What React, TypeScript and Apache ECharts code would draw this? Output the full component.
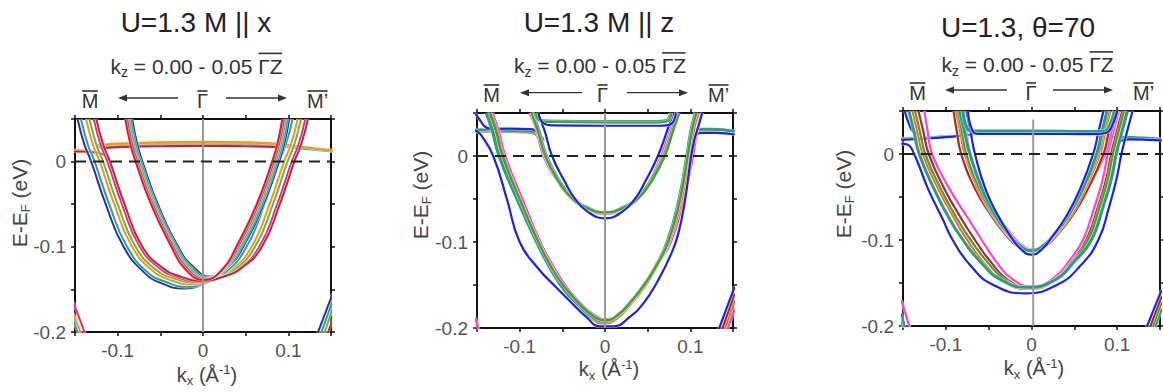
import React, { useEffect, useRef } from "react";
import * as echarts from "echarts";

type Pt = [number, number];

const FONT = '"Liberation Sans", Arial, Helvetica, sans-serif';

// ---------- shared axes ----------
const K_MIN = -0.15, K_MAX = 0.15, K_STEP = 0.05;
const E_MIN = -0.2, E_MAX = 0.05, E_STEP = 0.05;
const X_TICK_VALUES = [-0.1, 0, 0.1];
const X_TICK_TEXT = ["-0.1", "0", "0.1"];
const Y_TICK_VALUES = [-0.2, -0.1, 0];
const Y_TICK_TEXT = ["-0.2", "-0.1", "0"];

const TITLES = ["U=1.3 M || x", "U=1.3 M || z", "U=1.3, θ=70"];
const KZ_RANGE = " = 0.00 - 0.05 ";

const FERMI: Pt[] = [[-0.15, 0], [0.15, 0]];
const GAMMA_P1: Pt[] = [[0, 0.05], [0, -0.2]];
const GAMMA_P2: Pt[] = [[0, 0.05], [0, -0.2]];
const GAMMA_P3: Pt[] = [[0.002, 0.04], [0.002, -0.2]];

// ---------- Panel 1 : U=1.3 M || x ----------
const P1_OUT_NAVY: Pt[] = [[-0.147,0.05],[-0.139,0.02],[-0.131,0],[-0.114,-0.05],[-0.093,-0.1],[-0.069,-0.13],[-0.048,-0.143],[-0.023,-0.149],[0.002,-0.143],[0.023,-0.13],[0.047,-0.1],[0.068,-0.05],[0.085,0],[0.093,0.02],[0.101,0.05]];
const P1_OUT_TEAL: Pt[] = [[-0.143,0.05],[-0.135,0.02],[-0.127,0],[-0.11,-0.05],[-0.089,-0.1],[-0.065,-0.13],[-0.044,-0.141],[-0.019,-0.147],[0.006,-0.141],[0.027,-0.13],[0.051,-0.1],[0.072,-0.05],[0.089,0],[0.097,0.02],[0.105,0.05]];
const P1_OUT_ORANGE: Pt[] = [[-0.137,0.05],[-0.129,0.02],[-0.121,0],[-0.104,-0.05],[-0.083,-0.1],[-0.059,-0.128],[-0.038,-0.139],[-0.013,-0.144],[0.012,-0.139],[0.033,-0.128],[0.057,-0.1],[0.078,-0.05],[0.095,0],[0.103,0.02],[0.111,0.05]];
const P1_OUT_GREEN: Pt[] = [[-0.133,0.05],[-0.125,0.02],[-0.117,0],[-0.1,-0.05],[-0.079,-0.1],[-0.055,-0.127],[-0.034,-0.137],[-0.009,-0.142],[0.016,-0.137],[0.037,-0.127],[0.061,-0.1],[0.082,-0.05],[0.099,0],[0.107,0.02],[0.115,0.05]];
const P1_OUT_PINK: Pt[] = [[-0.128,0.05],[-0.12,0.02],[-0.112,0],[-0.095,-0.05],[-0.074,-0.1],[-0.05,-0.126],[-0.029,-0.136],[-0.004,-0.141],[0.021,-0.136],[0.042,-0.126],[0.066,-0.1],[0.087,-0.05],[0.104,0],[0.112,0.02],[0.12,0.05]];
const P1_OUT_RED: Pt[] = [[-0.125,0.05],[-0.117,0.02],[-0.109,0],[-0.092,-0.05],[-0.071,-0.1],[-0.047,-0.125],[-0.026,-0.135],[-0.001,-0.14],[0.024,-0.135],[0.045,-0.125],[0.069,-0.1],[0.09,-0.05],[0.107,0],[0.115,0.02],[0.123,0.05]];

const P1_IN_RED: Pt[] = [[-0.091,0.05],[-0.085,0.02],[-0.079,0],[-0.061,-0.05],[-0.037,-0.1],[-0.021,-0.126],[0.001,-0.139],[0.023,-0.126],[0.039,-0.1],[0.063,-0.05],[0.081,0],[0.087,0.02],[0.093,0.05]];
const P1_IN_PINK: Pt[] = [[-0.089,0.05],[-0.083,0.02],[-0.077,0],[-0.059,-0.05],[-0.035,-0.1],[-0.019,-0.125],[0.003,-0.138],[0.025,-0.125],[0.041,-0.1],[0.065,-0.05],[0.083,0],[0.089,0.02],[0.095,0.05]];
const P1_IN_GREEN: Pt[] = [[-0.087,0.05],[-0.081,0.02],[-0.075,0],[-0.057,-0.05],[-0.033,-0.1],[-0.017,-0.124],[0.005,-0.137],[0.027,-0.124],[0.043,-0.1],[0.067,-0.05],[0.085,0],[0.091,0.02],[0.097,0.05]];
const P1_IN_TEAL: Pt[] = [[-0.085,0.05],[-0.079,0.02],[-0.073,0],[-0.055,-0.05],[-0.031,-0.1],[-0.015,-0.123],[0.007,-0.136],[0.029,-0.123],[0.045,-0.1],[0.069,-0.05],[0.087,0],[0.093,0.02],[0.099,0.05]];
const P1_IN_NAVY: Pt[] = [[-0.083,0.05],[-0.077,0.02],[-0.071,0],[-0.053,-0.05],[-0.029,-0.1],[-0.013,-0.122],[0.009,-0.135],[0.031,-0.122],[0.047,-0.1],[0.071,-0.05],[0.089,0],[0.095,0.02],[0.101,0.05]];

const P1_FLAT_ORANGE: Pt[] = [[-0.125,0.019],[-0.1,0.021],[-0.05,0.0225],[0,0.023],[0.05,0.0225],[0.085,0.021],[0.11,0.018],[0.13,0.0155],[0.152,0.013]];
const P1_FLAT_TEAL: Pt[] = [[-0.125,0.017],[-0.1,0.019],[-0.05,0.0205],[0,0.021],[0.05,0.0205],[0.085,0.019],[0.11,0.016],[0.13,0.014],[0.152,0.012]];
const P1_FLAT_RED: Pt[] = [[-0.12,0.0155],[-0.1,0.017],[-0.05,0.018],[0,0.0185],[0.05,0.018],[0.088,0.017]];
const P1_LOW_ORANGE: Pt[] = [[-0.152,0.0135],[-0.14,0.013],[-0.128,0.011],[-0.122,0.004]];
const P1_LOW_RED: Pt[] = [[-0.152,0.012],[-0.135,0.0115],[-0.118,0.009],[-0.112,0.002]];

const P1_BL_PINK: Pt[] = [[-0.152,-0.165],[-0.137,-0.205]];
const P1_BL_ORANGE: Pt[] = [[-0.152,-0.178],[-0.142,-0.205]];
const P1_BL_TEAL: Pt[] = [[-0.152,-0.186],[-0.145,-0.205]];
const P1_BR_NAVY: Pt[] = [[0.133,-0.205],[0.152,-0.155]];
const P1_BR_TEAL: Pt[] = [[0.137,-0.205],[0.152,-0.163]];
const P1_BR_GREEN: Pt[] = [[0.141,-0.205],[0.152,-0.172]];
const P1_BR_RED: Pt[] = [[0.145,-0.205],[0.152,-0.185]];

// ---------- Panel 2 : U=1.3 M || z ----------
const P2_IN_BLUE: Pt[] = [[-0.079,0.05],[-0.071,0.03],[-0.062,0],[-0.047,-0.03],[-0.035,-0.05],[-0.02,-0.065],[0,-0.0725],[0.02,-0.065],[0.035,-0.05],[0.047,-0.03],[0.062,0],[0.073,0.03],[0.08,0.05]];
const P2_IN_GREEN: Pt[] = [[-0.086,0.05],[-0.079,0.03],[-0.07,0],[-0.054,-0.03],[-0.04,-0.048],[-0.022,-0.06],[0,-0.0655],[0.022,-0.06],[0.04,-0.048],[0.054,-0.03],[0.07,0],[0.08,0.03],[0.087,0.05]];
const P2_IN_TEAL: Pt[] = [[-0.085,0.05],[-0.078,0.03],[-0.069,0],[-0.053,-0.03],[-0.039,-0.048],[-0.021,-0.06],[0,-0.066],[0.021,-0.06],[0.039,-0.048],[0.053,-0.03],[0.069,0],[0.079,0.03],[0.086,0.05]];
const P2_IN_ORANGE: Pt[] = [[-0.084,0.05],[-0.077,0.03],[-0.068,0],[-0.052,-0.03],[-0.038,-0.05],[-0.021,-0.062],[0,-0.0675],[0.021,-0.062],[0.038,-0.05],[0.052,-0.03],[0.068,0],[0.078,0.03],[0.085,0.05]];
const P2_IN_MAGENTA: Pt[] = [[-0.088,0.05],[-0.08,0.03],[-0.072,0],[-0.055,-0.03],[-0.041,-0.048],[-0.022,-0.06],[0,-0.066],[0.022,-0.06],[0.04,-0.048],[0.052,-0.03],[0.066,0],[0.076,0.03],[0.083,0.05]];
const P2_IN_RED: Pt[] = [[-0.086,0.05],[-0.078,0.03],[-0.07,0],[-0.053,-0.03],[-0.039,-0.05],[-0.021,-0.062],[0,-0.067],[0.021,-0.062],[0.039,-0.05],[0.053,-0.03],[0.069,0],[0.079,0.03],[0.086,0.05]];

const P2_OUT_BLUE: Pt[] = [[-0.152,0.03],[-0.145,0.024],[-0.131,0],[-0.115,-0.05],[-0.1,-0.1],[-0.079,-0.13],[-0.058,-0.152],[-0.04,-0.17],[-0.022,-0.187],[-0.006,-0.198],[0.01,-0.198],[0.028,-0.188],[0.046,-0.17],[0.062,-0.145],[0.077,-0.115],[0.086,-0.09],[0.094,-0.05],[0.101,0],[0.105,0.02],[0.108,0.03],[0.114,0.05]];
const P2_OUT_TEAL: Pt[] = [[-0.139,0.05],[-0.132,0.03],[-0.124,0],[-0.103,-0.05],[-0.08,-0.1],[-0.062,-0.134],[-0.047,-0.156],[-0.031,-0.173],[-0.016,-0.186],[-0.001,-0.192],[0.014,-0.186],[0.029,-0.171],[0.045,-0.151],[0.059,-0.129],[0.073,-0.1],[0.087,-0.05],[0.096,0],[0.101,0.03],[0.106,0.05]];
const P2_OUT_GREEN: Pt[] = [[-0.135,0.05],[-0.128,0.03],[-0.12,0],[-0.1,-0.05],[-0.078,-0.1],[-0.06,-0.134],[-0.045,-0.155],[-0.03,-0.172],[-0.015,-0.185],[0,-0.191],[0.015,-0.185],[0.03,-0.17],[0.046,-0.15],[0.06,-0.128],[0.074,-0.1],[0.088,-0.05],[0.097,0],[0.102,0.03],[0.107,0.05]];
const P2_OUT_ORANGE: Pt[] = [[-0.137,0.05],[-0.13,0.03],[-0.122,0],[-0.102,-0.05],[-0.08,-0.1],[-0.062,-0.135],[-0.047,-0.158],[-0.031,-0.176],[-0.016,-0.189],[-0.001,-0.195],[0.014,-0.189],[0.029,-0.174],[0.046,-0.153],[0.06,-0.13],[0.075,-0.1],[0.09,-0.05],[0.099,0],[0.104,0.03],[0.109,0.05]];
const P2_OUT_RED: Pt[] = [[-0.134,0.05],[-0.127,0.03],[-0.119,0],[-0.1,-0.05],[-0.078,-0.1],[-0.06,-0.134],[-0.046,-0.156],[-0.03,-0.174],[-0.015,-0.187],[0,-0.193],[0.015,-0.187],[0.03,-0.172],[0.046,-0.152],[0.06,-0.129],[0.075,-0.1],[0.089,-0.05],[0.099,0],[0.104,0.03],[0.11,0.05]];
const P2_OUT_MAGENTA: Pt[] = [[-0.132,0.05],[-0.125,0.03],[-0.117,0],[-0.097,-0.05],[-0.076,-0.1],[-0.058,-0.133],[-0.044,-0.154],[-0.029,-0.171],[-0.014,-0.184],[0.001,-0.19],[0.016,-0.184],[0.031,-0.169],[0.047,-0.149],[0.061,-0.127],[0.077,-0.1],[0.092,-0.05],[0.103,0],[0.108,0.03],[0.114,0.05]];

const P2_UP_TEAL: Pt[] = [[-0.082,0.05],[-0.077,0.042],[-0.068,0.0405],[0,0.0398],[0.06,0.0398],[0.072,0.041],[0.077,0.05]];
const P2_UP_GREEN: Pt[] = [[-0.081,0.05],[-0.076,0.041],[-0.067,0.0395],[0,0.039],[0.06,0.039],[0.073,0.0405],[0.078,0.05]];
const P2_UP_BLUE: Pt[] = [[-0.078,0.05],[-0.072,0.038],[-0.062,0.0357],[0,0.0352],[0.065,0.0352],[0.077,0.037],[0.083,0.05]];
const P2_LO_L_TEAL: Pt[] = [[-0.152,0.0305],[-0.12,0.0298],[-0.095,0.0292],[-0.082,0.028],[-0.076,0.022]];
const P2_LO_L_ORANGE: Pt[] = [[-0.152,0.0285],[-0.12,0.028],[-0.095,0.0275],[-0.083,0.026],[-0.078,0.02]];
const P2_LO_L_BLUE: Pt[] = [[-0.14,0.0315],[-0.11,0.0318],[-0.088,0.0312],[-0.078,0.027],[-0.072,0.018]];
const P2_LO_R_TEAL: Pt[] = [[0.102,0.022],[0.108,0.031],[0.125,0.031],[0.152,0.0285]];
const P2_LO_R_ORANGE: Pt[] = [[0.104,0.022],[0.11,0.029],[0.13,0.029],[0.152,0.027]];
const P2_LO_R_BLUE: Pt[] = [[0.104,0.018],[0.112,0.027],[0.13,0.0268],[0.152,0.025]];
const P2_TL_BLUE: Pt[] = [[-0.152,0.05],[-0.146,0.041],[-0.139,0.033],[-0.13,0.0315]];
const P2_BR_BLUE: Pt[] = [[0.132,-0.205],[0.152,-0.152]];
const P2_BR_RED: Pt[] = [[0.136,-0.205],[0.152,-0.16]];
const P2_BR_ORANGE: Pt[] = [[0.139,-0.205],[0.152,-0.168]];
const P2_BR_MAGENTA: Pt[] = [[0.142,-0.205],[0.152,-0.178]];
const P2_BL_MAGENTA: Pt[] = [[-0.152,-0.188],[-0.147,-0.205]];

// ---------- Panel 3 : U=1.3, theta=70 ----------
const P3_IN_BLUE: Pt[] = [[-0.076,0.05],[-0.071,0.025],[-0.066,0],[-0.054,-0.04],[-0.04,-0.07],[-0.025,-0.095],[-0.012,-0.111],[0,-0.117],[0.012,-0.111],[0.025,-0.095],[0.042,-0.07],[0.057,-0.04],[0.072,0],[0.078,0.025],[0.084,0.05]];
const P3_IN_TEAL: Pt[] = [[-0.084,0.05],[-0.078,0.025],[-0.072,0],[-0.058,-0.04],[-0.043,-0.07],[-0.027,-0.093],[-0.013,-0.107],[0,-0.1125],[0.013,-0.107],[0.027,-0.093],[0.044,-0.07],[0.06,-0.04],[0.076,0],[0.082,0.025],[0.088,0.05]];
const P3_IN_GREEN: Pt[] = [[-0.086,0.05],[-0.081,0.025],[-0.076,0],[-0.061,-0.04],[-0.045,-0.07],[-0.028,-0.093],[-0.013,-0.107],[0,-0.112],[0.013,-0.107],[0.028,-0.093],[0.045,-0.07],[0.061,-0.04],[0.078,0],[0.084,0.025],[0.09,0.05]];
const P3_IN_ORANGE: Pt[] = [[-0.088,0.05],[-0.083,0.025],[-0.078,0],[-0.063,-0.04],[-0.046,-0.07],[-0.029,-0.093],[-0.014,-0.107],[0,-0.1125],[0.014,-0.107],[0.029,-0.093],[0.047,-0.07],[0.063,-0.04],[0.08,0],[0.086,0.025],[0.092,0.05]];
const P3_IN_RED: Pt[] = [[-0.091,0.05],[-0.087,0.025],[-0.082,0],[-0.066,-0.04],[-0.048,-0.07],[-0.03,-0.094],[-0.015,-0.108],[0,-0.113],[0.015,-0.108],[0.03,-0.094],[0.049,-0.07],[0.066,-0.04],[0.084,0],[0.09,0.025],[0.096,0.05]];
const P3_IN_MAGENTA: Pt[] = [[-0.08,0.05],[-0.076,0.025],[-0.071,0],[-0.056,-0.04],[-0.04,-0.07],[-0.024,-0.093],[-0.011,-0.106],[0.002,-0.111],[0.015,-0.106],[0.03,-0.093],[0.048,-0.07],[0.066,-0.04],[0.086,0],[0.093,0.025],[0.1,0.05]];

const P3_OUT_BLUE: Pt[] = [[-0.152,0.012],[-0.145,0.011],[-0.137,0],[-0.121,-0.04],[-0.104,-0.075],[-0.092,-0.1],[-0.071,-0.13],[-0.045,-0.152],[-0.007,-0.162],[0.03,-0.152],[0.057,-0.13],[0.078,-0.1],[0.091,-0.06],[0.099,-0.03],[0.105,0],[0.11,0.02],[0.118,0.05]];
const P3_OUT_TEAL: Pt[] = [[-0.143,0.05],[-0.137,0.025],[-0.131,0],[-0.114,-0.04],[-0.096,-0.075],[-0.08,-0.1],[-0.06,-0.125],[-0.036,-0.146],[-0.004,-0.155],[0.028,-0.146],[0.05,-0.125],[0.07,-0.1],[0.084,-0.06],[0.093,-0.03],[0.099,0],[0.104,0.02],[0.112,0.05]];
const P3_OUT_ORANGE: Pt[] = [[-0.139,0.05],[-0.133,0.025],[-0.127,0],[-0.109,-0.04],[-0.09,-0.075],[-0.075,-0.1],[-0.056,-0.126],[-0.033,-0.148],[-0.003,-0.157],[0.027,-0.148],[0.049,-0.126],[0.068,-0.1],[0.082,-0.06],[0.091,-0.03],[0.097,0],[0.102,0.02],[0.11,0.05]];
const P3_OUT_GREEN: Pt[] = [[-0.136,0.05],[-0.13,0.025],[-0.124,0],[-0.106,-0.04],[-0.087,-0.075],[-0.071,-0.1],[-0.052,-0.125],[-0.03,-0.147],[-0.002,-0.156],[0.026,-0.147],[0.048,-0.125],[0.066,-0.1],[0.08,-0.06],[0.089,-0.03],[0.095,0],[0.1,0.02],[0.108,0.05]];
const P3_OUT_RED: Pt[] = [[-0.132,0.05],[-0.126,0.025],[-0.12,0],[-0.102,-0.04],[-0.082,-0.075],[-0.066,-0.1],[-0.048,-0.125],[-0.027,-0.147],[0,-0.156],[0.026,-0.147],[0.047,-0.125],[0.064,-0.1],[0.078,-0.06],[0.087,-0.03],[0.093,0],[0.098,0.02],[0.106,0.05]];
const P3_OUT_MAGENTA: Pt[] = [[-0.125,0.05],[-0.121,0.025],[-0.116,0],[-0.096,-0.04],[-0.074,-0.075],[-0.058,-0.1],[-0.042,-0.124],[-0.023,-0.145],[0,-0.154],[0.025,-0.145],[0.045,-0.123],[0.06,-0.1],[0.074,-0.06],[0.083,-0.03],[0.089,0],[0.094,0.02],[0.102,0.05]];

const P3_UP_TEAL: Pt[] = [[-0.08,0.05],[-0.075,0.03],[-0.068,0.0265],[0,0.0265],[0.07,0.026],[0.085,0.0265],[0.092,0.035],[0.097,0.05]];
const P3_UP_BLUE: Pt[] = [[-0.074,0.05],[-0.07,0.03],[-0.063,0.0235],[0,0.0235],[0.075,0.023],[0.088,0.025],[0.095,0.035],[0.1,0.05]];
const P3_LO_L_BLUE: Pt[] = [[-0.152,0.0165],[-0.12,0.018],[-0.09,0.0205],[-0.075,0.022],[-0.068,0.0235]];
const P3_LO_L_TEAL: Pt[] = [[-0.152,0.0175],[-0.12,0.019],[-0.1,0.02],[-0.085,0.021]];
const P3_LO_R_TEAL: Pt[] = [[0.098,0.012],[0.102,0.018],[0.11,0.0195],[0.13,0.0185],[0.152,0.017]];
const P3_LO_R_BLUE: Pt[] = [[0.1,0.008],[0.105,0.0155],[0.115,0.017],[0.135,0.0165],[0.152,0.0155]];
const P3_TL_BLUE: Pt[] = [[-0.148,0.05],[-0.143,0.035],[-0.138,0.026],[-0.13,0.023]];
const P3_BL_MAGENTA: Pt[] = [[-0.152,-0.17],[-0.141,-0.205]];
const P3_BL_TEAL: Pt[] = [[-0.152,-0.185],[-0.147,-0.205]];
const P3_BL_GREEN: Pt[] = [[-0.152,-0.193],[-0.149,-0.205]];
const P3_BR_BLUE: Pt[] = [[0.133,-0.205],[0.152,-0.158]];
const P3_BR_RED: Pt[] = [[0.137,-0.205],[0.152,-0.165]];
const P3_BR_GREEN: Pt[] = [[0.14,-0.205],[0.152,-0.172]];
const P3_BR_TEAL: Pt[] = [[0.143,-0.205],[0.152,-0.18]];

// ---------- colours ----------
const C1 = { navy: "#2e3192", teal: "#1fa3a8", orange: "#f7941d", green: "#6cb545", pink: "#e62b81", red: "#c4262e" };
const C2 = { blue: "#1c24d8", teal: "#2f9c80", green: "#4f9b2f", orange: "#f26622", magenta: "#ff44cc", red: "#a82a2a" };

type Curve = [Pt[], string, number];

const P1_CURVES: Curve[] = [
  [P1_FLAT_TEAL, C1.teal, 2.2], [P1_FLAT_ORANGE, C1.orange, 2.4], [P1_FLAT_RED, C1.red, 2.2],
  [P1_LOW_ORANGE, C1.orange, 2], [P1_LOW_RED, C1.red, 2],
  [P1_OUT_NAVY, C1.navy, 2], [P1_OUT_TEAL, C1.teal, 2], [P1_OUT_ORANGE, C1.orange, 2], [P1_OUT_GREEN, C1.green, 2], [P1_OUT_PINK, C1.pink, 2], [P1_OUT_RED, C1.red, 2],
  [P1_IN_NAVY, C1.navy, 2], [P1_IN_TEAL, C1.teal, 2], [P1_IN_GREEN, C1.green, 2], [P1_IN_PINK, C1.pink, 2], [P1_IN_RED, C1.red, 2],
  [P1_BL_TEAL, C1.teal, 2], [P1_BL_ORANGE, C1.orange, 2], [P1_BL_PINK, C1.pink, 2],
  [P1_BR_RED, C1.red, 2], [P1_BR_GREEN, C1.green, 2], [P1_BR_TEAL, C1.teal, 2], [P1_BR_NAVY, C1.navy, 2],
];

const P2_CURVES: Curve[] = [
  [P2_LO_L_ORANGE, C2.orange, 2.2], [P2_LO_L_TEAL, C2.teal, 3], [P2_LO_L_BLUE, C2.blue, 2.2],
  [P2_LO_R_ORANGE, C2.orange, 2.2], [P2_LO_R_TEAL, C2.teal, 3], [P2_LO_R_BLUE, C2.blue, 2.2], [P2_TL_BLUE, C2.blue, 2.2],
  [P2_OUT_MAGENTA, C2.magenta, 2.6], [P2_OUT_RED, C2.red, 2.2], [P2_OUT_ORANGE, C2.orange, 2.2], [P2_OUT_TEAL, C2.teal, 3.4], [P2_OUT_GREEN, C2.green, 2.4], [P2_OUT_BLUE, C2.blue, 2.2],
  [P2_IN_MAGENTA, C2.magenta, 2.6], [P2_IN_RED, C2.red, 2.2], [P2_IN_ORANGE, C2.orange, 2.2], [P2_IN_TEAL, C2.teal, 3.4], [P2_IN_GREEN, C2.green, 2.4], [P2_IN_BLUE, C2.blue, 2.2],
  [P2_UP_TEAL, C2.teal, 3.4], [P2_UP_GREEN, C2.green, 2], [P2_UP_BLUE, C2.blue, 2.2],
  [P2_BR_MAGENTA, C2.magenta, 2.4], [P2_BR_ORANGE, C2.orange, 2.2], [P2_BR_RED, C2.red, 2.2], [P2_BR_BLUE, C2.blue, 2.2], [P2_BL_MAGENTA, C2.magenta, 2.4],
];

const P3_CURVES: Curve[] = [
  [P3_LO_L_TEAL, C2.teal, 3], [P3_LO_L_BLUE, C2.blue, 2.2], [P3_LO_R_TEAL, C2.teal, 3], [P3_LO_R_BLUE, C2.blue, 2.2], [P3_TL_BLUE, C2.blue, 2.2],
  [P3_OUT_MAGENTA, C2.magenta, 2.2], [P3_OUT_RED, C2.red, 2.2], [P3_OUT_ORANGE, C2.orange, 2.2], [P3_OUT_GREEN, C2.green, 2.2], [P3_OUT_TEAL, C2.teal, 3], [P3_OUT_BLUE, C2.blue, 2.2],
  [P3_IN_MAGENTA, C2.magenta, 2.2], [P3_IN_RED, C2.red, 2.2], [P3_IN_ORANGE, C2.orange, 2.2], [P3_IN_GREEN, C2.green, 2.2], [P3_IN_TEAL, C2.teal, 3], [P3_IN_BLUE, C2.blue, 2.2],
  [P3_UP_TEAL, C2.teal, 3.2], [P3_UP_BLUE, C2.blue, 2.2],
  [P3_BL_GREEN, C2.green, 2.2], [P3_BL_TEAL, C2.teal, 2.4], [P3_BL_MAGENTA, C2.magenta, 2.2],
  [P3_BR_TEAL, C2.teal, 2.4], [P3_BR_GREEN, C2.green, 2.2], [P3_BR_RED, C2.red, 2.2], [P3_BR_BLUE, C2.blue, 2.2],
];

const PANELS = [
  { curves: P1_CURVES, gamma: GAMMA_P1 },
  { curves: P2_CURVES, gamma: GAMMA_P2 },
  { curves: P3_CURVES, gamma: GAMMA_P3 },
];

// ---------- layout (positions only) ----------
const GRIDS = [
  { left: 75, top: 119, width: 256, height: 213 },
  { left: 477, top: 113, width: 256, height: 215 },
  { left: 903, top: 111, width: 257, height: 215 },
];
const TITLE_POS = [[196, 22.5], [599, 22.5], [1018, 27]];
const SUB_POS = [[196.5, 66], [600, 65.5], [1027.5, 64.5]];
const PATH_ROW = [
  { m: 90, g: 202.5, mp: 307, y: 101, a1: [118, 178], a2: [226, 287], ay: 98 },
  { m: 491.5, g: 602.5, mp: 708, y: 95, a1: [520, 582], a2: [627, 688], ay: 92.7 },
  { m: 917.5, g: 1031, mp: 1133, y: 93, a1: [945, 1007], a2: [1053, 1113], ay: 90 },
];
const YNAME_POS = [[19, 203], [420, 195], [843.5, 194]];
const XNAME_POS = [[207, 374.5], [609, 369], [1034, 368]];

// ---------- text helpers ----------
let mctx: CanvasRenderingContext2D | null = null;
function tw(t: string, s: number): number {
  if (!mctx) mctx = document.createElement("canvas").getContext("2d");
  if (!mctx) return t.length * s * 0.55;
  mctx.font = `${s}px ${FONT}`;
  return mctx.measureText(t).width;
}
type Seg = { t: string; s: number; dy?: number; over?: number };
function textRow(segs: Seg[], x: number, y: number, color: string, align: "left" | "center" = "center", rotation = 0) {
  const widths = segs.map((sg) => tw(sg.t, sg.s));
  const total = widths.reduce((a, b) => a + b, 0);
  let cx = align === "center" ? -total / 2 : 0;
  const children: any[] = [];
  segs.forEach((sg, i) => {
    children.push({
      type: "text", x: cx, y: sg.dy || 0, silent: true,
      style: { text: sg.t, fontSize: sg.s, fontFamily: FONT, fill: color, textAlign: "left", textVerticalAlign: "middle" },
    });
    if (sg.over) {
      const oy = -sg.over * sg.s;
      children.push({ type: "line", silent: true, shape: { x1: cx + 0.5, y1: oy, x2: cx + widths[i] - 0.5, y2: oy }, style: { stroke: color, lineWidth: 1.6 } });
    }
    cx += widths[i];
  });
  return { type: "group", x, y, rotation, children };
}
function arrow(x1: number, x2: number, y: number, headLeft: boolean) {
  const hx = headLeft ? x1 : x2;
  const d = headLeft ? 1 : -1;
  return [
    { type: "line", silent: true, shape: { x1: headLeft ? x1 + 3 : x1, y1: y, x2: headLeft ? x2 : x2 - 3, y2: y }, style: { stroke: "#333", lineWidth: 1.3 } },
    { type: "polygon", silent: true, shape: { points: [[hx, y], [hx + 9 * d, y - 3.5], [hx + 9 * d, y + 3.5]] }, style: { fill: "#333" } },
  ];
}

function labelFor(values: number[], texts: string[]) {
  return (v: number) => {
    for (let i = 0; i < values.length; i++) if (Math.abs(v - values[i]) < 1e-6) return texts[i];
    return "";
  };
}

function buildOption() {
  const axisLine = { show: true, onZero: false, lineStyle: { color: "#111", width: 2 } };
  const axisTick = { show: true, inside: false, length: 4, lineStyle: { color: "#111", width: 1.5 } };
  const labelStyle = { fontFamily: FONT, fontSize: 19, color: "#555" };
  const xAxis: any[] = [];
  const yAxis: any[] = [];
  GRIDS.forEach((_, i) => {
    const xb = { type: "value", gridIndex: i, min: K_MIN, max: K_MAX, interval: K_STEP, axisLine, axisTick, splitLine: { show: false } };
    const yb = { type: "value", gridIndex: i, min: E_MIN, max: E_MAX, interval: E_STEP, axisLine, axisTick, splitLine: { show: false } };
    xAxis.push({ ...xb, position: "bottom", axisLabel: { ...labelStyle, margin: 9, formatter: labelFor(X_TICK_VALUES, X_TICK_TEXT) } });
    xAxis.push({ ...xb, position: "top", axisLabel: { show: false } });
    yAxis.push({ ...yb, position: "left", axisLabel: { ...labelStyle, margin: 9, formatter: labelFor(Y_TICK_VALUES, Y_TICK_TEXT) } });
    yAxis.push({ ...yb, position: "right", axisLabel: { show: false } });
  });

  const series: any[] = [];
  PANELS.forEach((p, i) => {
    const base = { type: "line", xAxisIndex: 2 * i, yAxisIndex: 2 * i, showSymbol: false, symbol: "none", silent: true, clip: true, animation: false };
    p.curves.forEach(([data, color, w]) => {
      series.push({ ...base, data, smooth: 0.5, z: 2, lineStyle: { color: "rgba(255,255,255,0.6)", width: w + 1.2 } });
      series.push({ ...base, data, smooth: 0.5, z: 2, lineStyle: { color, width: w } });
    });
    series.push({ ...base, data: p.gamma, z: 4, lineStyle: { color: "#9a9a9a", width: 2 } });
    series.push({ ...base, data: FERMI, z: 4, lineStyle: { color: "#222", width: 2, type: [11, 7] } });
  });

  const graphic: any[] = [];
  GRIDS.forEach((_, i) => {
    graphic.push(textRow([{ t: TITLES[i], s: 28 }], TITLE_POS[i][0], TITLE_POS[i][1], "#222"));
    graphic.push(textRow([
      { t: "k", s: 21 }, { t: "z", s: 14, dy: 6 }, { t: KZ_RANGE, s: 21 }, { t: "ΓZ", s: 21, over: 0.6 },
    ], SUB_POS[i][0], SUB_POS[i][1], "#333"));
    const r = PATH_ROW[i];
    graphic.push(textRow([{ t: "M", s: 20, over: 0.5 }], r.m, r.y, "#333"));
    graphic.push(textRow([{ t: "Γ", s: 20, over: 0.5 }], r.g, r.y, "#333"));
    graphic.push(textRow([{ t: "M’", s: 20, over: 0.5 }], r.mp, r.y, "#333", "left"));
    graphic.push(...arrow(r.a1[0], r.a1[1], r.ay, true));
    graphic.push(...arrow(r.a2[0], r.a2[1], r.ay, false));
    graphic.push(textRow([
      { t: "E-E", s: 21 }, { t: "F", s: 13, dy: 6 }, { t: " (eV)", s: 21 },
    ], YNAME_POS[i][0], YNAME_POS[i][1], "#444", "center", Math.PI / 2));
    graphic.push(textRow([
      { t: "k", s: 20 }, { t: "x", s: 13, dy: 6 }, { t: " (Å", s: 20 }, { t: "-1", s: 13, dy: -5 }, { t: ")", s: 20 },
    ], XNAME_POS[i][0], XNAME_POS[i][1], "#444"));
  });

  return {
    animation: false,
    backgroundColor: "#ffffff",
    grid: GRIDS.map((g) => ({ ...g, containLabel: false })),
    xAxis,
    yAxis,
    series,
    graphic,
  };
}

export default function App() {
  const ref = useRef<HTMLDivElement>(null);
  useEffect(() => {
    if (!ref.current) return;
    const chart = echarts.init(ref.current, undefined, { renderer: "svg" });
    chart.setOption(buildOption() as any);
    return () => chart.dispose();
  }, []);
  return <div ref={ref} style={{ position: "absolute", left: 0, top: 0, width: 1163, height: 392, background: "#fff" }} />;
}
